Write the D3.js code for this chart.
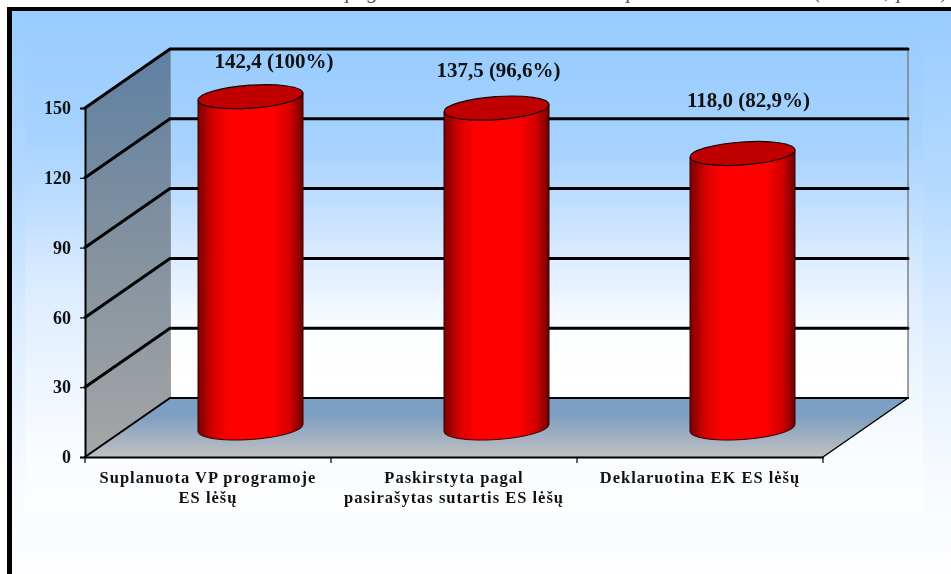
<!DOCTYPE html>
<html><head><meta charset="utf-8">
<script src="https://cdn.jsdelivr.net/npm/d3@7"></script>
<style>html,body{margin:0;padding:0;background:#fff;overflow:hidden}svg{display:block;filter:blur(0.35px)}
text{font-family:"Liberation Serif",serif;font-weight:bold;fill:#111}</style></head><body>
<svg id="c" width="951" height="574"></svg>
<script>
const categories = ["Suplanuota VP programoje","Paskirstyta pagal","Deklaruotina EK ES lėšų"];
const categorySecondLines = ["ES lėšų","pasirašytas sutartis ES lėšų",""];
const values = [142.4,137.5,118.0];
const valueLabels = ["142,4 (100%)","137,5 (96,6%)","118,0 (82,9%)"];
const yTicks = [0,30,60,90,120,150];
const labelShiftX = [23.5,2,6];
const labelBaselineAbove = [29,31,46];

const W=951,H=574, depthX=85, depthY=59;
const x=d3.scaleBand().domain(categories).range([85,823]);
const y=d3.scaleLinear().domain([0,150]).range([457,108]);
const svg=d3.select("#c");
const defs=svg.append("defs");
function lin(id,stops,x2=0,y2=1){
  const g=defs.append("linearGradient").attr("id",id).attr("x1",0).attr("y1",0).attr("x2",x2).attr("y2",y2);
  stops.forEach(s=>g.append("stop").attr("offset",s[0]).attr("stop-color",s[1]));
}
lin("bgOuter",[[0,"#99ccff"],[0.3,"#b4d9ff"],[0.55,"#dcecff"],[0.8,"#f6faff"],[1,"#fefeff"]]);
lin("bgInner",[[0,"#99ccff"],[0.25,"#a6d2ff"],[0.55,"#dcecff"],[0.85,"#f8fbff"],[1,"#fdfeff"]]);
lin("wall",[[0,"#99ccff"],[0.3,"#a8d3ff"],[0.6,"#dcecff"],[0.82,"#fdfeff"],[1,"#ffffff"]]);
lin("side",[[0,"#5f80a3"],[0.5,"#84929f"],[1,"#a6a6a6"]]);
lin("floor",[[0,"#7a9fc6"],[0.3,"#7f9fc2"],[1,"#c0c0c0"]]);
lin("cyl",[[0,"#7a0000"],[0.15,"#d80000"],[0.3,"#ff0000"],[0.72,"#ff0000"],[0.88,"#d00000"],[1,"#700000"]],1,0);

// clipped caption above the frame: only its descenders show in the picture
const capClip=defs.append("clipPath").attr("id","capClip");
capClip.append("rect").attr("width",W).attr("height",7);
svg.append("text").attr("clip-path","url(#capClip)").attr("x",W-2).attr("y",-2)
  .attr("text-anchor","end").style("font-style","italic").style("font-weight","normal")
  .style("font-size","22px").style("fill","#555").text("pagrindinės veiklos sutartis bei panaudotas ES lėšas (mln. Lt; proc.)");

// frame and page background
svg.append("rect").attr("x",7).attr("y",7).attr("width",W).attr("height",H).attr("fill","#000");
svg.append("rect").attr("x",12).attr("y",11).attr("width",W).attr("height",H).attr("fill","url(#bgOuter)");
svg.append("rect").attr("x",25).attr("y",11).attr("width",898).attr("height",502).attr("fill","url(#bgInner)");

const back=v=>y(v)-depthY;
const xL=x.range()[0], xR=x.range()[1];
const pts=a=>a.map(p=>p.join(",")).join(" ");

// back wall, side wall, floor
svg.append("rect").attr("x",xL+depthX).attr("y",back(150)).attr("width",xR-xL).attr("height",back(0)-back(150))
  .attr("fill","url(#wall)").attr("stroke","#808080").attr("stroke-width",1.5);
svg.append("polygon").attr("points",pts([[xL,y(150)],[xL+depthX,back(150)],[xL+depthX,back(0)],[xL,y(0)]])).attr("fill","url(#side)");
svg.append("polygon").attr("points",pts([[xL,y(0)],[xL+depthX,back(0)],[xR+depthX,back(0)],[xR,y(0)]])).attr("fill","url(#floor)");

// gridlines
const grid=svg.append("g").attr("fill","none").attr("stroke","#000").attr("stroke-linecap","round");
yTicks.forEach(t=>{
  grid.append("polyline").attr("points",pts([[xL,y(t)],[xL+depthX,back(t)],[xR+depthX,back(t)]])).attr("stroke-width",t===0?2:3);
});
grid.append("line").attr("x1",xR).attr("y1",y(0)).attr("x2",xR+depthX).attr("y2",back(0)).attr("stroke-width",1.5);

// axes
const yAxis=d3.axisLeft(y).tickValues(yTicks).tickSize(5).tickPadding(9).tickFormat(d3.format("d"));
const yg=svg.append("g").attr("transform",`translate(${xL},0)`).call(yAxis);
yg.select(".domain").attr("stroke","#000").attr("stroke-width",2);
yg.selectAll(".tick line").attr("stroke","#000").attr("stroke-width",1.2);
yg.selectAll("text").style("font-size","18px").style("font-family","Liberation Serif").style("font-weight","bold").style("fill","#111");

const xAxis=d3.axisBottom(x).tickSize(0).tickPadding(0).tickFormat("");
const xg=svg.append("g").attr("transform",`translate(0,${y(0)})`).call(xAxis);
xg.select(".domain").attr("stroke","#000").attr("stroke-width",2);
const edges=[xL].concat(categories.map(c=>x(c)+x.bandwidth()));
xg.selectAll("line.edge").data(edges).join("line").attr("class","edge").attr("x1",d=>d).attr("x2",d=>d).attr("y1",0).attr("y2",6).attr("stroke","#000").attr("stroke-width",1.2);

// category labels
categories.forEach((c,i)=>{
  const cx=x(c)+x.bandwidth()/2;
  [c,categorySecondLines[i]].forEach((line,k)=>{
    if(line) svg.append("text").attr("x",cx).attr("y",483+k*20).attr("text-anchor","middle")
      .style("font-size","16.5px").style("letter-spacing","1px").text(line);
  });
});

// cylinders
const rx=52.5, ry=11.5, tilt=-4, lean=3.7;
const base=y(0)-depthY/2+0.5;
const unit=(y(0)-y(1));
values.forEach((v,i)=>{
  const c=categories[i];
  const cx=x(c)+x.bandwidth()/2+depthX/2;
  const top=base-v*unit;
  const g=svg.append("g");
  g.append("path").attr("d",
    `M${cx-rx},${top+lean} L${cx-rx},${base+lean} A${rx},${ry} ${tilt} 0 0 ${cx+rx},${base-lean} L${cx+rx},${top-lean} Z`)
    .attr("fill","url(#cyl)").attr("stroke","#300").attr("stroke-width",1);
  g.append("ellipse").attr("cx",cx).attr("cy",top).attr("rx",rx).attr("ry",ry)
    .attr("transform",`rotate(${tilt} ${cx} ${top})`).attr("fill","#c00000").attr("stroke","#100").attr("stroke-width",1.2);
  svg.append("text").attr("x",cx+labelShiftX[i]).attr("y",top-labelBaselineAbove[i]).attr("text-anchor","middle")
    .style("font-size","21px").text(valueLabels[i]);
});
</script></body></html>
